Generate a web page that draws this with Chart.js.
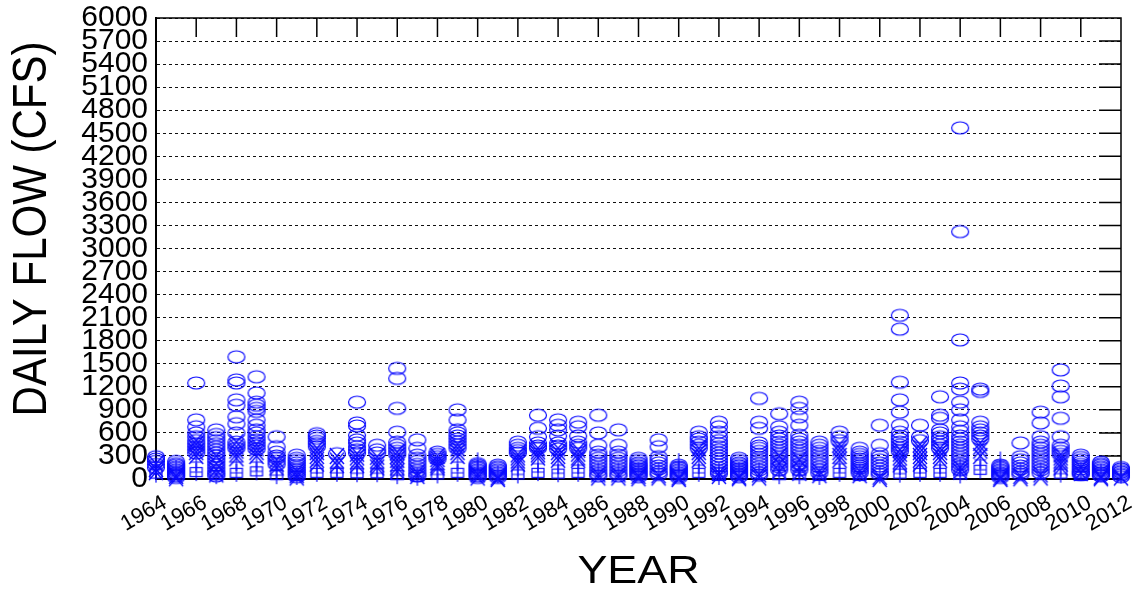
<!DOCTYPE html>
<html>
<head>
<meta charset="utf-8">
<script src="https://cdn.jsdelivr.net/npm/chart.js@4.4.1/dist/chart.umd.min.js"></script>
<style>
  body { margin: 0; background: #fff; }
  canvas { display: block; }
</style>
</head>
<body>
<canvas id="flowChart" width="1138" height="593"></canvas>
<script>
const years = [1964, 1965, 1966, 1967, 1968, 1969, 1970, 1971, 1972, 1973, 1974, 1975, 1976, 1977,
  1978, 1979, 1980, 1981, 1982, 1983, 1984, 1985, 1986, 1987, 1988, 1989, 1990, 1991, 1992, 1993,
  1994, 1995, 1996, 1997, 1998, 1999, 2000, 2001, 2002, 2003, 2004, 2005, 2006, 2007, 2008, 2009,
  2010, 2011, 2012];

// open circles, one list per year
const circleFlows = [
  [290, 260, 230, 190, 150],
  [230, 200, 180, 160, 140, 120, 100, 80, 60, 40, 20],
  [1250, 770, 680, 600, 550, 500, 460, 420, 380, 340],
  [640, 580, 540, 500, 460, 420, 380, 340, 300, 260, 220, 180, 140, 100, 70, 40],
  [1590, 1290, 1250, 1030, 960, 810, 720, 600, 480, 440, 400],
  [1330, 1120, 1000, 960, 920, 880, 770, 700, 640, 600, 550, 510, 470, 430, 390],
  [550, 420, 350, 300, 270, 230, 190],
  [310, 270, 240, 210, 180, 150, 120, 90, 60, 30],
  [590, 560, 530, 490, 460, 420],
  [330],
  [1000, 730, 690, 570, 510, 470, 420, 380, 340],
  [440, 380, 340],
  [1440, 1310, 920, 610, 480, 440, 400, 360, 320],
  [510, 400, 310, 270, 230, 190, 150, 110, 70, 40],
  [350, 320, 290, 260],
  [900, 770, 640, 600, 560, 520, 480, 440, 400],
  [200, 180, 160, 140, 120, 100, 80, 60, 40, 20],
  [180, 160, 140, 120, 100, 80, 60, 40, 20],
  [480, 440, 400, 370, 340],
  [830, 660, 550, 470, 430, 400],
  [770, 700, 640, 560, 470, 430, 390],
  [740, 680, 560, 480, 440, 400],
  [830, 600, 440, 350, 310, 270, 230, 190, 150, 110, 70, 40],
  [640, 440, 350, 310, 270, 230, 190, 150, 110, 70, 40],
  [270, 240, 210, 190, 170, 150, 130, 110, 90, 70, 50, 30],
  [510, 420, 290, 250, 210, 170, 130, 90, 60],
  [180, 160, 140, 120, 100, 80, 60, 40, 20],
  [610, 550, 520, 480, 440, 400],
  [740, 680, 610, 550, 500, 460, 420, 380, 340, 300, 260, 220, 180, 140, 100, 70],
  [270, 240, 210, 190, 170, 150, 130, 110, 90, 70, 50, 30],
  [1050, 740, 660, 470, 430, 400, 360, 320, 280, 240, 200, 160, 120, 80, 50],
  [850, 680, 610, 560, 520, 480, 440, 400, 360, 320, 280, 240, 200, 160, 120],
  [1000, 920, 810, 700, 570, 520, 480, 440, 400, 360, 320, 280, 240, 200, 160, 120],
  [480, 440, 400, 360, 320, 280, 240, 200, 160, 120, 80],
  [610, 550, 500],
  [400, 350, 320, 290, 260, 230, 200, 170, 140, 110, 80],
  [700, 440, 330, 290, 250, 210, 170, 130, 90, 60],
  [2130, 1950, 1260, 1030, 870, 700, 610, 560, 520, 480, 440, 400, 360],
  [700, 550, 500],
  [1070, 830, 790, 640, 600, 550, 520, 480, 440, 400],
  [4570, 3220, 1810, 1250, 1170, 1000, 900, 770, 680, 620, 560, 520, 480, 440, 400, 360, 320, 280, 240, 200, 160, 120],
  [1170, 1140, 740, 680, 640, 600, 560, 520],
  [180, 160, 140, 120, 100, 80, 60, 40, 20],
  [470, 290, 250, 210, 170, 130, 90, 60],
  [870, 730, 550, 480, 440, 400, 360, 320, 280, 240, 200, 160, 120, 80],
  [1420, 1210, 1070, 790, 550, 440, 400, 360, 320],
  [310, 280, 250, 220, 190, 160, 130, 100, 80, 60],
  [220, 200, 180, 160, 140, 120, 100, 80, 60, 40],
  [150, 130, 110, 90, 70, 50, 30]
];

// x markers
const crossFlows = [
  [200, 130, 90], [40, 10], [500, 450, 400, 350, 300], [300, 200, 120, 60],
  [480, 420, 370, 320, 270], [450, 400, 350, 300], [250, 200, 150], [100, 50, 20],
  [400, 350, 300, 250, 200], [300, 240, 180], [330, 280, 230, 180], [290, 240, 190, 150],
  [350, 300, 250, 200, 150, 100], [80, 40], [300, 260, 220, 180, 150], [450, 400, 350, 300],
  [60, 20], [20, 0], [320, 280, 240, 200], [400, 360, 320, 280], [400, 350, 300, 250],
  [380, 330, 280, 250], [60, 20], [60, 20], [40, 10], [50, 20], [20, 0],
  [400, 350, 300, 250], [80, 40], [30, 10], [60, 20], [300, 200, 100], [250, 150, 80],
  [100, 50], [450, 400, 350, 300, 250], [100, 50], [30, 0], [380, 330, 280, 230, 190],
  [450, 400, 350, 300, 250, 200], [400, 350, 300, 250], [150, 100], [470, 420, 370, 300],
  [20, 0], [40, 10], [60, 20], [320, 280, 240, 200, 150], [150, 80], [30, 10], [20]
];

// squares
const boxFlows = [70, null, 90, 50, 80, 100, 50, 40, 80, 80, 75, 75, 50, 30, 60, 80, null, null,
  60, 80, 70, 80, null, null, null, null, null, 80, 40, null, null, 50, 50, 40, 80, 40, null,
  70, 80, 80, 60, 120, null, null, null, 70, 40, null, null];

// plus markers (stems)
const plusFlows = [
  [70, 150], [130], [90, 220], [50], [80, 220], [100, 220], [50, 120], [40], [80, 180],
  [80, 150], [75, 160], [75, 140], [50, 150], [30], [60, 130], [80, 220], [130, 230], [60],
  [60, 150], [90, 200], [75, 180], [80, 180], [100], [100], [100], [100], [120, 220],
  [80, 180], [40, 100], [100], [100], [50, 150], [50, 130], [40], [80, 200], [80], [60],
  [70, 170], [80, 180], [80, 180], [60, 150], [120, 250], [130, 240], [100], [100],
  [70, 150], [100], [80], [60]
];

const yMin = 0, yMax = 6000, yStep = 300;
const xMin = 1964, xMax = 2012, xStep = 2;

const BLUE = 'rgb(10,10,255)';

function marker(w, h, draw) {
  const c = document.createElement('canvas');
  c.width = w; c.height = h;
  const g = c.getContext('2d');
  g.strokeStyle = BLUE;
  g.lineWidth = 1.2;
  draw(g, w / 2, h / 2);
  return c;
}
const ellipseImg = marker(20, 16, (g, cx, cy) => {
  g.beginPath(); g.ellipse(cx, cy, 8.5, 6, 0, 0, Math.PI * 2); g.stroke();
});
const crossImg = marker(18, 20, (g, cx, cy) => {
  g.lineWidth = 1.4;
  g.beginPath();
  g.moveTo(cx - 7, cy - 8); g.lineTo(cx + 7, cy + 8);
  g.moveTo(cx + 7, cy - 8); g.lineTo(cx - 7, cy + 8);
  g.stroke();
});
const boxImg = marker(16, 14, (g, cx, cy) => {
  g.strokeRect(cx - 6, cy - 4.5, 12, 9);
});
const plusImg = marker(16, 22, (g, cx, cy) => {
  g.beginPath();
  g.moveTo(cx, cy - 9); g.lineTo(cx, cy + 9);
  g.moveTo(cx - 6, cy); g.lineTo(cx + 6, cy);
  g.stroke();
});

function points(lists) {
  const out = [];
  lists.forEach((vals, i) => {
    [].concat(vals).forEach(v => { if (v !== null) out.push({x: years[i], y: v}); });
  });
  return out;
}

// frame, inner ticks on top and right, and the two axis titles
const frameTicks = {
  id: 'frameTicks',
  beforeDatasetsDraw(chart) {
    const {ctx, chartArea: a, scales: {x, y}} = chart;
    ctx.save();
    ctx.strokeStyle = '#000';
    ctx.lineWidth = 1.5;
    ctx.beginPath();
    ctx.moveTo(a.left, a.top); ctx.lineTo(a.right, a.top); ctx.lineTo(a.right, a.bottom);
    x.ticks.forEach(t => {
      const px = x.getPixelForValue(t.value);
      ctx.moveTo(px, a.top); ctx.lineTo(px, a.top + 19);
    });
    y.ticks.forEach(t => {
      const py = y.getPixelForValue(t.value);
      ctx.moveTo(a.right, py); ctx.lineTo(a.right - 22, py);
    });
    ctx.stroke();
    ctx.restore();
  },
  afterDraw(chart) {
    const {ctx, chartArea: a} = chart;
    ctx.save();
    ctx.fillStyle = '#000';
    ctx.font = '42px "Liberation Sans"';
    ctx.textAlign = 'center';
    ctx.textBaseline = 'alphabetic';
    ctx.translate(46, 229);
    ctx.rotate(-Math.PI / 2);
    ctx.scale(1, 1.15);
    ctx.fillText('DAILY FLOW (CFS)', 0, 0);
    ctx.restore();

    ctx.save();
    ctx.fillStyle = '#000';
    ctx.font = '39px "Liberation Sans"';
    ctx.textAlign = 'center';
    ctx.textBaseline = 'alphabetic';
    ctx.translate((a.left + a.right) / 2, 583);
    ctx.scale(1.15, 1);
    ctx.fillText('YEAR', 0, 0);
    ctx.restore();
  }
};

const base = {showLine: false, clip: false, pointRadius: 8, pointHoverRadius: 8};

new Chart(document.getElementById('flowChart'), {
  type: 'scatter',
  data: {
    datasets: [
      Object.assign({label: 'box', data: points(boxFlows), pointStyle: boxImg}, base),
      Object.assign({label: 'plus', data: points(plusFlows), pointStyle: plusImg}, base),
      Object.assign({label: 'cross', data: points(crossFlows), pointStyle: crossImg}, base),
      Object.assign({label: 'circle', data: points(circleFlows), pointStyle: ellipseImg}, base)
    ]
  },
  options: {
    responsive: false,
    animation: false,
    layout: { padding: { top: 18, right: 17, left: 0, bottom: 0 } },
    plugins: { legend: { display: false }, tooltip: { enabled: false } },
    scales: {
      x: {
        type: 'linear',
        min: xMin, max: xMax,
        afterFit: s => { s.height = 114; s.paddingLeft = 0; s.paddingRight = 0; },
        ticks: {
          stepSize: xStep, autoSkip: false, maxRotation: 30, minRotation: 30,
          color: '#000', padding: 3, labelOffset: 9,
          font: { family: 'Liberation Sans', size: 22 },
          callback: v => String(v)
        },
        grid: { display: false },
        border: { display: true, color: '#000', width: 2 }
      },
      y: {
        min: yMin, max: yMax,
        afterFit: s => { s.width = 156; s.paddingTop = 0; s.paddingBottom = 0; },
        ticks: {
          stepSize: yStep, autoSkip: false, color: '#000', padding: 8,
          font: { family: 'Liberation Sans', size: 30 },
          callback: v => String(v)
        },
        grid: { color: '#111', lineWidth: 1, drawTicks: false },
        border: { display: true, color: '#000', width: 2, dash: [3, 3] }
      }
    }
  },
  plugins: [frameTicks]
});
</script>
</body>
</html>
